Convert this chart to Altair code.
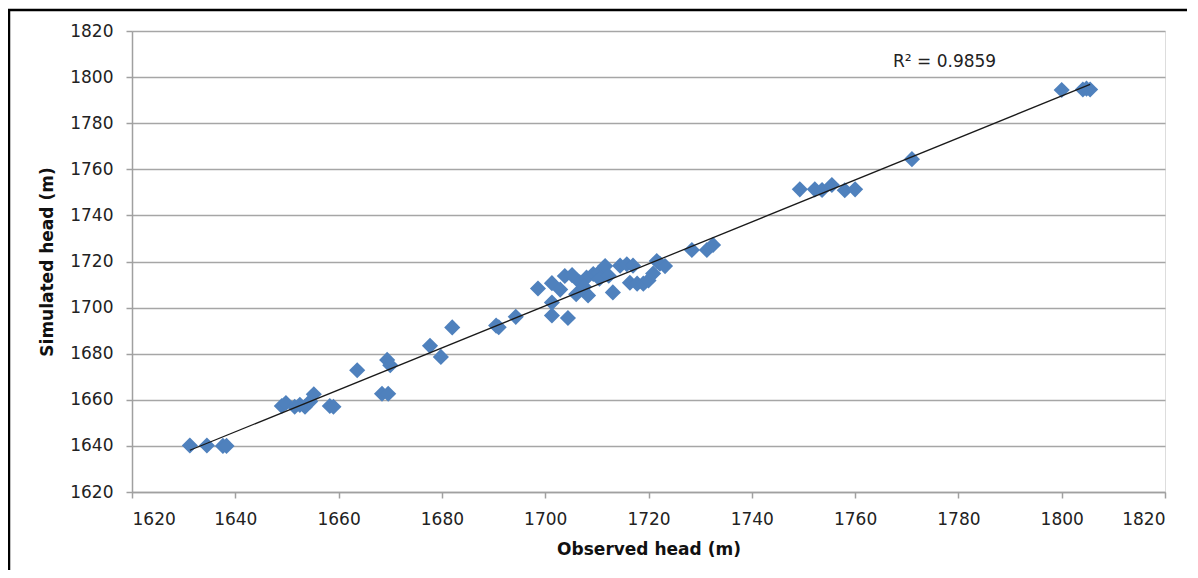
import altair as alt
import pandas as pd

observed = [1631.2, 1634.5, 1637.6, 1638.3, 1649.0, 1649.8, 1651.5, 1652.5, 1653.5, 1654.5,
            1655.2, 1658.3, 1659.0, 1663.6, 1668.4, 1669.6, 1669.4, 1670.0, 1677.7, 1679.8,
            1682.0, 1690.5, 1691.0, 1694.3, 1698.6, 1701.3, 1701.3, 1701.3, 1704.4, 1702.9,
            1703.8, 1705.2, 1706.7, 1708.0, 1708.3, 1706.0, 1709.3, 1710.3, 1711.6, 1713.1,
            1714.5, 1715.8, 1717.0, 1716.4, 1717.8, 1719.0, 1720.0, 1720.9, 1722.2, 1723.2,
            1721.6, 1728.4, 1731.3, 1732.5, 1749.3, 1752.2, 1753.6, 1755.5, 1758.0, 1760.0,
            1771.0, 1800.0, 1804.1, 1805.5, 1804.8, 1707.5, 1710.5, 1712.3]
simulated = [1640.2, 1640.2, 1640.0, 1640.0, 1657.3, 1658.6, 1657.0, 1657.8, 1657.0, 1659.3,
             1662.4, 1657.3, 1657.0, 1672.8, 1662.6, 1662.6, 1677.3, 1675.0, 1683.4, 1678.6,
             1691.4, 1692.2, 1691.5, 1696.0, 1708.3, 1710.6, 1702.2, 1696.6, 1695.5, 1707.8,
             1713.7, 1714.1, 1711.0, 1713.0, 1705.3, 1705.8, 1714.6, 1715.0, 1718.0, 1706.6,
             1718.2, 1718.8, 1718.2, 1710.8, 1710.4, 1710.4, 1711.8, 1714.8, 1719.0, 1718.0,
             1720.2, 1725.0, 1725.0, 1727.2, 1751.3, 1751.3, 1751.0, 1753.2, 1750.9, 1751.3,
             1764.4, 1794.4, 1794.6, 1794.6, 1795.0, 1709.0, 1712.5, 1713.8]
ticks = [1620, 1640, 1660, 1680, 1700, 1720, 1740, 1760, 1780, 1800, 1820]
r2_label = "R\u00b2 = 0.9859"

df = pd.DataFrame({"obs": observed, "sim": simulated})

FONT = "DejaVu Sans"
W, H = 1033, 461

xscale = alt.Scale(domain=[1620, 1820], nice=False, zero=False)
yscale = alt.Scale(domain=[1620, 1820], nice=False, zero=False)

xaxis = alt.Axis(values=ticks, format="d", title="Observed head (m)", grid=False,
                 domainColor="#A0A0A0", domainWidth=1.5, tickColor="#A0A0A0", tickWidth=1.5,
                 tickSize=6, labelPadding=13, labelFont=FONT, labelFontSize=17,
                 labelColor="#222222", titleFont=FONT, titleFontSize=17, titleFontWeight="bold",
                 titleColor="#111111", titleBaseline="alphabetic", titleY=62, titleX=W / 2,
                 titleAlign="center")
yaxis = alt.Axis(values=ticks, format="d", title="Simulated head (m)", grid=True,
                 gridColor="#A6A6A6", gridWidth=1.5, domainColor="#A0A0A0", domainWidth=1.5,
                 tickColor="#A0A0A0", tickWidth=1.5, tickSize=6, labelPadding=13,
                 labelFont=FONT, labelFontSize=17, labelColor="#222222", titleFont=FONT,
                 titleFontSize=17, titleFontWeight="bold", titleColor="#111111",
                 titleAngle=-90, titleBaseline="alphabetic", titleAlign="center",
                 titleX=-80, titleY=H / 2)

base = alt.Chart(df)

points = base.mark_point(shape="diamond", filled=True, size=260, color="#4F81BD",
                         opacity=1).encode(
    x=alt.X("obs:Q", scale=xscale, axis=xaxis),
    y=alt.Y("sim:Q", scale=yscale, axis=yaxis),
)

trend = base.transform_regression("obs", "sim", method="linear").mark_line(
    color="#1a1a1a", strokeWidth=1.3).encode(
    x=alt.X("obs:Q", scale=xscale),
    y=alt.Y("sim:Q", scale=yscale),
)

label = alt.Chart(pd.DataFrame({"t": [r2_label]})).mark_text(
    font=FONT, fontSize=17, align="left", baseline="alphabetic", color="#222222").encode(
    text="t:N", x=alt.value(761), y=alt.value(36))

border_top = alt.Chart(pd.DataFrame({"a": [0]})).mark_rule(
    color="black", strokeWidth=2.5).encode(
    x=alt.value(-124), x2=alt.value(W + 40), y=alt.value(-21))
border_left = alt.Chart(pd.DataFrame({"a": [0]})).mark_rule(
    color="black", strokeWidth=2.5).encode(
    x=alt.value(-123), y=alt.value(-21), y2=alt.value(H + 90))

chart = alt.layer(points, trend, label, border_top, border_left).properties(
    width=W, height=H,
    autosize=alt.AutoSizeParams(type="none"),
    padding={"left": 124, "top": 23, "right": 22, "bottom": 78},
).configure_view(stroke=None).configure(background="white")

chart.save("out.html", embed_options={"renderer": "svg", "actions": False})
